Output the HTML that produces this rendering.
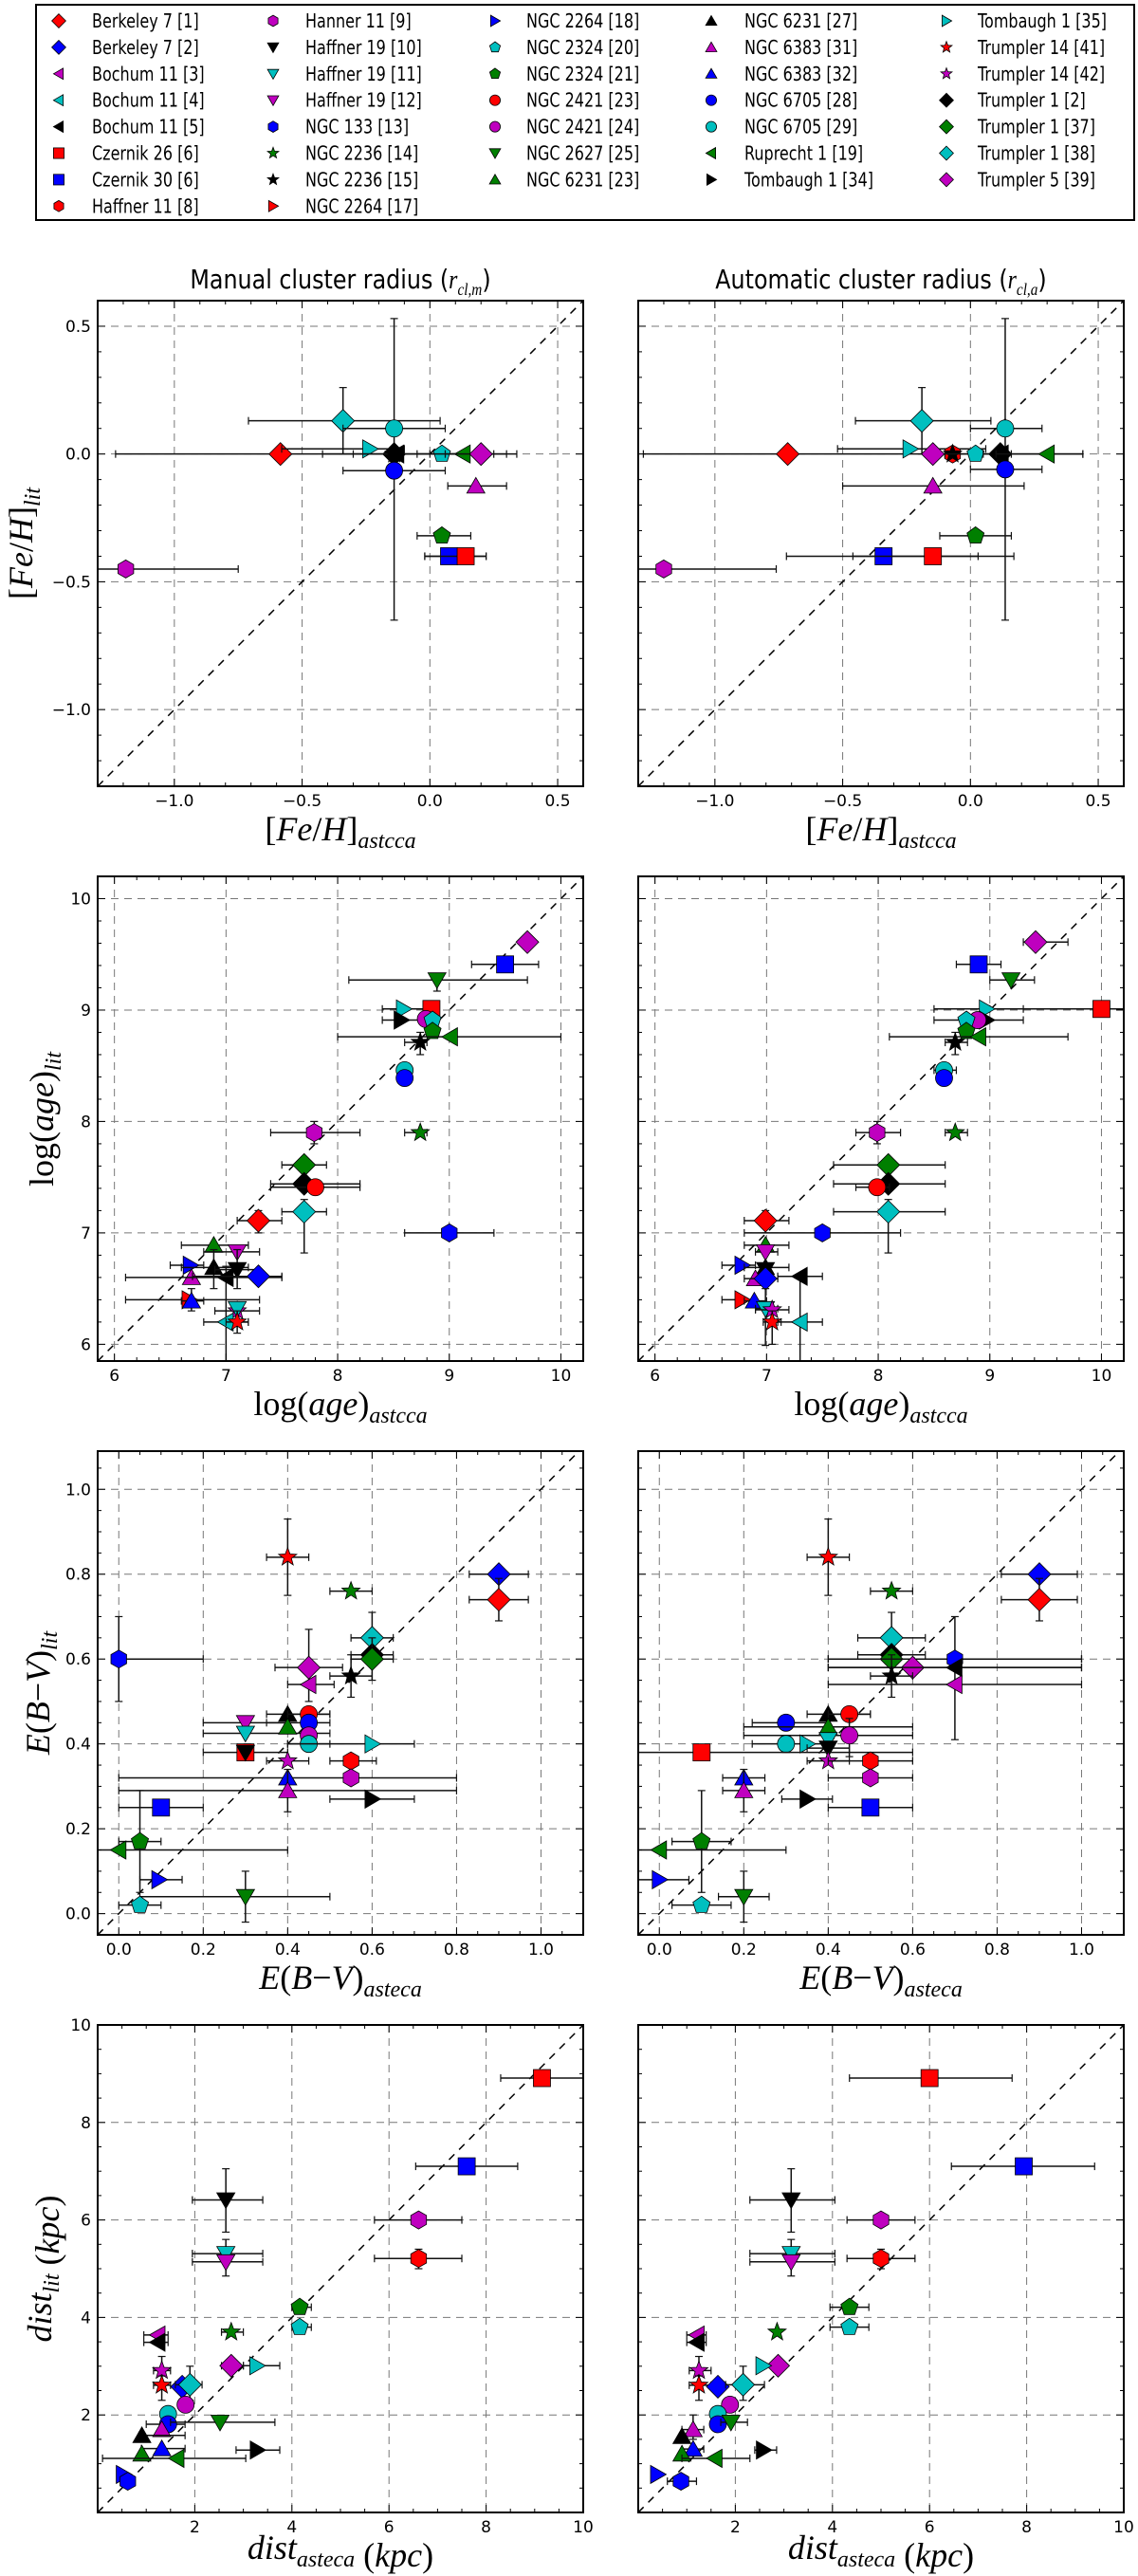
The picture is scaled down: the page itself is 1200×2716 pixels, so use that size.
<!DOCTYPE html>
<html><head><meta charset="utf-8"><style>
html,body{margin:0;padding:0;background:#fff;}
svg{display:block;}
</style></head><body>
<svg id="fig" xmlns="http://www.w3.org/2000/svg" width="1200" height="2716" viewBox="0 0 1200 2716"></svg>
<script>
// ---- series definitions ----
const seriesNames = ["Berkeley 7 [1]","Berkeley 7 [2]","Bochum 11 [3]","Bochum 11 [4]","Bochum 11 [5]","Czernik 26 [6]","Czernik 30 [6]","Haffner 11 [8]","Hanner 11 [9]","Haffner 19 [10]","Haffner 19 [11]","Haffner 19 [12]","NGC 133 [13]","NGC 2236 [14]","NGC 2236 [15]","NGC 2264 [17]","NGC 2264 [18]","NGC 2324 [20]","NGC 2324 [21]","NGC 2421 [23]","NGC 2421 [24]","NGC 2627 [25]","NGC 6231 [23]","NGC 6231 [27]","NGC 6383 [31]","NGC 6383 [32]","NGC 6705 [28]","NGC 6705 [29]","Ruprecht 1 [19]","Tombaugh 1 [34]","Tombaugh 1 [35]","Trumpler 14 [41]","Trumpler 14 [42]","Trumpler 1 [2]","Trumpler 1 [37]","Trumpler 1 [38]","Trumpler 5 [39]"];
const seriesMarkers = ["D","D","<","<","<","s","s","h","h","v","v","v","h","*","*",">",">","p","p","o","o","v","^","^","^","^","o","o","<",">",">","*","*","D","D","D","D"];
const seriesColors = ["r","b","m","c","k","r","b","r","m","k","c","m","b","g","k","r","b","c","g","r","m","g","g","k","m","b","b","c","g","k","c","r","m","k","g","c","m"];

// ---- data: [series, x, y, xlo, xhi, ylo, yhi] ----
const fehManual = [
[0,-0.585,0,-1.23,0.3],[35,-0.34,0.13,-0.71,0.04,0,0.26],[27,-0.14,0.10,-0.34,0.06,-0.65,0.53],
[30,-0.235,0.02,-0.58,-0.1],[33,-0.14,0,-0.42,0.14],[4,-0.13,0,-0.3,0.04],[14,-0.14,0],
[17,0.047,0,-0.05,0.15],[28,0.13,0,0.0,0.25],[36,0.2,0,0.06,0.34],[26,-0.14,-0.065,-0.34,0.06],
[24,0.18,-0.125,0.07,0.3],[18,0.047,-0.32,-0.05,0.16],[6,0.075,-0.4,-0.02,0.22],[5,0.14,-0.4,-0.02,0.22],
[8,-1.19,-0.45,-1.3,-0.75]];
const fehAuto = [
[0,-0.715,0,-1.28,0.44],[35,-0.19,0.13,-0.45,0.08,0,0.26],[27,0.136,0.10,0.0,0.28,-0.65,0.53],
[30,-0.236,0.02,-0.52,0.06],[36,-0.147,0],[7,-0.07,0],[14,-0.07,0],[17,0.02,0,-0.1,0.14],
[33,0.117,0,0.05,0.16],[4,0.12,0],[28,0.30,0,0.1,0.44],[26,0.136,-0.06,0.0,0.28],
[24,-0.147,-0.125,-0.5,0.21],[18,0.02,-0.32,-0.12,0.16],[6,-0.34,-0.4,-0.72,0.03],[5,-0.147,-0.4,-0.46,0.17],
[8,-1.2,-0.45,-1.3,-0.76]];
const ageManual = [
[36,9.70,9.61],[6,9.50,9.41,9.2,9.8],[21,8.89,9.27,8.1,9.7,9.17,9.3],[30,8.59,9.01,8.4,8.8],[5,8.84,9.01],
[29,8.57,8.91,8.4,8.8],[20,8.79,8.92],[17,8.85,8.91],[18,8.85,8.81],[28,9.01,8.76,8.0,10.0],
[14,8.74,8.71,8.6,8.8,8.6,8.8],[27,8.60,8.46],[26,8.60,8.39],[13,8.74,7.90,8.6,8.8],[8,7.79,7.90,7.4,8.2,7.8,8.0],
[34,7.70,7.61,7.5,7.9],[33,7.70,7.44,7.4,8.2],[19,7.80,7.41,7.4,8.2],[35,7.70,7.19,7.5,7.9,6.82,7.3],
[0,7.29,7.11,7.1,7.5,7.0,7.2],[12,9.00,7.00,8.6,9.4],[22,6.89,6.89,6.6,7.2],[11,7.10,6.83,6.8,7.3],
[16,6.68,6.71,6.5,6.8],[23,6.89,6.69,6.6,7.2,6.5,6.85],[9,7.10,6.67,6.9,7.3,6.5,6.85],[24,6.69,6.60],
[4,7.00,6.60,6.1,7.5,5.85,6.7],[1,7.29,6.61,6.7,7.5],[15,6.67,6.40,6.1,7.3],[25,6.69,6.39,6.6,6.8,6.3,6.5],
[32,7.10,6.30,6.9,7.3],[10,7.10,6.32],[3,7.00,6.20,6.8,7.2],[31,7.10,6.20,7.0,7.2,6.1,6.3]];
const ageAuto = [
[36,9.41,9.61,9.3,9.7],[6,8.90,9.41,8.7,9.1],[21,9.19,9.27,9.0,9.4],[5,10.0,9.01,9.0,10.2],
[30,8.97,9.01,8.5,9.3],[29,8.97,8.91,8.5,9.3],[20,8.89,8.91],[17,8.79,8.91],[18,8.79,8.81],
[28,8.90,8.76,8.1,9.7],[14,8.69,8.71,8.6,8.8,8.6,8.8],[27,8.59,8.46,8.5,8.7],[26,8.59,8.39],
[13,8.69,7.90,8.6,8.8],[8,7.99,7.90,7.8,8.2,7.8,8.0],[34,8.09,7.61,7.6,8.6],[33,8.09,7.44,7.6,8.6],
[19,7.99,7.41,7.8,8.1],[35,8.09,7.19,7.6,8.6,6.82,7.3],[0,6.99,7.11,6.8,7.2,7.0,7.2],[12,7.50,7.00,6.8,8.2],
[22,6.99,6.89,6.8,7.2],[11,6.99,6.83,6.9,7.1],[16,6.78,6.71,6.6,6.9],[23,6.99,6.69,6.8,7.2],[9,6.99,6.67],
[4,7.30,6.61,7.1,7.5,5.85,6.6],[24,6.90,6.59],[1,6.99,6.59,6.8,7.1],[15,6.78,6.40,6.6,6.9],
[25,6.89,6.39,6.8,7.0],[10,6.99,6.32,6.9,7.1,5.99,6.5],[32,7.05,6.31,6.9,7.2],[31,7.05,6.20,6.97,7.13,6.0,6.3],
[3,7.30,6.20,7.1,7.5]];
const ebvManual = [
[31,0.40,0.84,0.35,0.45,0.75,0.93],[13,0.55,0.76,0.5,0.6],[1,0.90,0.80,0.83,0.97],[0,0.90,0.74,0.83,0.97,0.69,0.79],
[35,0.60,0.65,0.55,0.65,0.6,0.71],[33,0.60,0.61,0.55,0.65],[34,0.60,0.60,0.55,0.65,0.55,0.65],[12,0.0,0.60,0.0,0.2,0.5,0.7],
[36,0.45,0.58,0.37,0.53,0.5,0.67],[14,0.55,0.56,0.5,0.6,0.51,0.61],[2,0.45,0.54,0.4,0.51],[23,0.40,0.47,0.35,0.5],
[19,0.45,0.47,0.4,0.5],[26,0.45,0.45,0.35,0.5],[11,0.30,0.45,0.2,0.4],[10,0.30,0.425,0.2,0.5],[22,0.40,0.44],
[20,0.45,0.42],[27,0.45,0.40,0.4,0.5],[30,0.60,0.40,0.4,0.7],[5,0.30,0.38,0.2,0.4],[9,0.30,0.38],
[32,0.40,0.36,0.35,0.45],[7,0.55,0.36,0.5,0.61],[8,0.55,0.32,0.0,0.8],[25,0.40,0.32],[24,0.40,0.29,0.0,0.8,0.24,0.34],
[29,0.60,0.27,0.5,0.7],[6,0.10,0.25,0.0,0.2],[18,0.05,0.17,0.0,0.1,0.05,0.29],[28,0.0,0.15,-0.05,0.4],
[16,0.095,0.08,0.05,0.15],[21,0.30,0.04,0.05,0.5,-0.02,0.1],[17,0.05,0.02,0.0,0.1]];
const ebvAuto = [
[31,0.40,0.84,0.35,0.45,0.75,0.93],[13,0.55,0.76,0.5,0.6],[1,0.90,0.80,0.81,0.99],[0,0.90,0.74,0.81,0.99,0.69,0.79],
[35,0.55,0.65,0.47,0.63,0.6,0.71],[33,0.55,0.61,0.47,0.63],[34,0.55,0.60,0.4,1.0],[12,0.70,0.60,0.4,1.0,0.41,0.7],
[36,0.60,0.58,0.4,1.0],[4,0.70,0.58,0.4,1.0],[14,0.55,0.56,0.5,0.6,0.51,0.61],[2,0.70,0.54,0.4,1.0],
[23,0.40,0.47,0.35,0.5],[19,0.45,0.47,0.4,0.5],[26,0.30,0.45,0.22,0.4],[22,0.40,0.44,0.2,0.6],
[20,0.45,0.42,0.2,0.6,0.37,0.46],[27,0.30,0.40,0.22,0.4,0.38,0.42],[30,0.35,0.40],[10,0.40,0.41],
[9,0.40,0.39,0.35,0.45],[5,0.10,0.38,-0.05,0.6],[32,0.40,0.36,0.35,0.45],[7,0.50,0.36,0.4,0.6],[8,0.50,0.32,0.4,0.6],
[25,0.20,0.32,0.15,0.25],[24,0.20,0.29,0.15,0.25,0.24,0.34],[29,0.35,0.27,0.29,0.41],[6,0.50,0.25,0.4,0.6],
[18,0.10,0.17,0.03,0.17,0.05,0.29],[28,0.0,0.15,-0.05,0.3],[16,0.0,0.08,-0.05,0.07],[21,0.20,0.04,0.14,0.26,-0.02,0.1],
[17,0.10,0.02,0.03,0.17]];
const distManual = [
[5,9.15,8.91,8.3,10],[6,7.60,7.10,6.55,8.65],[9,2.64,6.41,1.95,3.4,5.75,7.05],[8,6.61,6.00,5.7,7.5],
[10,2.64,5.31,1.95,3.4,4.85,5.6],[11,2.64,5.14,1.95,3.4],[7,6.61,5.21,5.7,7.5,5.0,5.4],[18,4.16,4.21,4.0,4.4],
[17,4.16,3.80,4.0,4.4],[13,2.75,3.70,2.55,3.0],[2,1.24,3.64,0.95,1.45],[4,1.24,3.49,0.95,1.45],[36,2.75,3.01,2.55,3.0],
[30,3.28,3.01,3.0,3.75],[32,1.32,2.91,1.15,1.5,2.6,3.2],[31,1.32,2.61,1.15,1.5,2.3,2.8],[1,1.74,2.58],
[35,1.90,2.62,1.6,2.15,2.3,3.0],[20,1.81,2.21],[27,1.45,2.02],[26,1.45,1.81,1.0,1.8],[21,2.52,1.85,1.5,3.65],
[24,1.32,1.70],[23,0.91,1.58,0.85,1.8],[25,1.32,1.31,0.9,1.8],[29,3.29,1.28,2.85,3.75],[22,0.91,1.20],
[28,1.63,1.11,0.1,3.05],[16,0.53,0.78],[12,0.62,0.64]];
const distAuto = [
[5,6.00,8.91,4.35,7.7],[6,7.94,7.10,6.45,9.4],[9,3.15,6.41,2.3,4.05,5.75,7.05],[8,5.00,6.00,4.3,5.7],
[10,3.15,5.31,2.3,4.05,4.85,5.6],[11,3.15,5.14,2.3,4.05],[7,5.00,5.21,4.3,5.7,5.0,5.4],[18,4.35,4.21,3.95,4.75],
[17,4.35,3.80,3.95,4.75],[13,2.86,3.70],[2,1.21,3.64,1.0,1.4],[4,1.21,3.49,1.0,1.4],[36,2.88,3.01],[30,2.57,3.01],
[32,1.25,2.91,1.05,1.5,2.6,3.2],[31,1.25,2.61,1.05,1.5,2.3,2.8],[1,1.64,2.58],[35,2.16,2.62,1.8,2.6,2.3,3.0],
[20,1.89,2.21],[27,1.64,2.02],[26,1.64,1.81],[21,1.91,1.85,1.7,2.25],[24,1.13,1.70,0.9,1.35,1.5,2.0],
[23,0.90,1.56],[25,1.13,1.30,0.9,1.35],[29,2.58,1.28,2.4,2.85],[22,0.90,1.20],[28,1.58,1.11,0.9,2.3],
[16,0.40,0.78],[12,0.88,0.64,0.6,1.2]];

// ---- tick label arrays ----
const fehTicks = [-1.0,-0.5,0.0,0.5];
const ageTicks = [6,7,8,9,10];
const ebvTicks = [0.0,0.2,0.4,0.6,0.8,1.0];
const distTicks = [2,4,6,8,10];

const NS="http://www.w3.org/2000/svg";
const svg=document.getElementById('fig');
const COL={r:"#ff0000",b:"#0000ff",m:"#bf00bf",c:"#00bfbf",k:"#000000",g:"#007f00"};
function el(tag,attrs,parent){const e=document.createElementNS(NS,tag);for(const k in attrs)e.setAttribute(k,attrs[k]);(parent||svg).appendChild(e);return e;}
function fmt(v,d){const s=v.toFixed(d);return s.replace('-','\u2212');}

function poly(n,r,rot,cx,cy){let p=[];for(let i=0;i<n;i++){const a=rot+i*2*Math.PI/n;p.push((cx+r*Math.cos(a)).toFixed(1)+','+(cy+r*Math.sin(a)).toFixed(1));}return p.join(' ');}
function starPts(r,cx,cy){let p=[];for(let i=0;i<10;i++){const a=-Math.PI/2+i*Math.PI/5;const rr=i%2?r*0.42:r;p.push((cx+rr*Math.cos(a)).toFixed(1)+','+(cy+rr*Math.sin(a)).toFixed(1));}return p.join(' ');}
function marker(type,color,cx,cy,sc,parent){
  const a={fill:COL[color],stroke:"#000","stroke-width":0.8};
  let e;
  if(type==='o'){e=el('circle',Object.assign({cx:cx,cy:cy,r:9*sc},a),parent);}
  else if(type==='D'){e=el('polygon',Object.assign({points:poly(4,12*sc,-Math.PI/2,cx,cy)},a),parent);}
  else if(type==='s'){e=el('rect',Object.assign({x:cx-9*sc,y:cy-9*sc,width:18*sc,height:18*sc},a),parent);}
  else if(type==='h'){e=el('polygon',Object.assign({points:poly(6,9.5*sc,-Math.PI/2,cx,cy)},a),parent);}
  else if(type==='p'){e=el('polygon',Object.assign({points:poly(5,9.5*sc,-Math.PI/2,cx,cy)},a),parent);}
  else if(type==='*'){e=el('polygon',Object.assign({points:starPts(10*sc,cx,cy)},a),parent);}
  else if(type==='^'){e=el('polygon',Object.assign({points:poly(3,11*sc,-Math.PI/2,cx,cy+2*sc)},a),parent);}
  else if(type==='v'){e=el('polygon',Object.assign({points:poly(3,11*sc,Math.PI/2,cx,cy-2*sc)},a),parent);}
  else if(type==='<'){e=el('polygon',Object.assign({points:poly(3,11*sc,Math.PI,cx+2*sc,cy)},a),parent);}
  else if(type==='>'){e=el('polygon',Object.assign({points:poly(3,11*sc,0,cx-2*sc,cy)},a),parent);}
  return e;
}

// ---- legend ----
const legend=el('g',{});


el('rect',{x:38,y:5,width:1158,height:227,fill:"#fff",stroke:"#000","stroke-width":2},legend);
const legMX=[62,288,522,750,998], legTX=[97,322,555,785,1031];
const legColStart=[0,8,16,23,30,37];
seriesNames.forEach((nm,i)=>{
  let col=0; while(i>=legColStart[col+1]) col++;
  const row=i-legColStart[col];
  const y=22+row*27.9;
  const g=el('g',{},legend);
  
  
  marker(seriesMarkers[i],seriesColors[i],legMX[col],y,0.62,g);
  const t=el('text',{x:0,y:0,"font-family":"DejaVu Sans, Liberation Sans, sans-serif","font-size":20,transform:`translate(${legTX[col]},${y+7}) scale(0.8,1)`},g);
  t.textContent=nm;
});

// ---- panels ----
const colX=[103,673], W=512;
const rows=[
 {top:317,h:512,xmin:-1.3,xmax:0.6,ymin:-1.3,ymax:0.6,xt:fehTicks,yt:[-1.0,-0.5,0.0,0.5],dec:1,minor:0.1,data:[fehManual,fehAuto],key:'feh'},
 {top:924,h:511,xmin:5.85,xmax:10.2,ymin:5.85,ymax:10.2,xt:ageTicks,yt:ageTicks,dec:0,minor:0.2,data:[ageManual,ageAuto],key:'age'},
 {top:1530,h:510,xmin:-0.05,xmax:1.1,ymin:-0.05,ymax:1.09,xt:ebvTicks,yt:ebvTicks,dec:1,minor:0.05,data:[ebvManual,ebvAuto],key:'ebv'},
 {top:2135,h:514,xmin:0,xmax:10,ymin:0,ymax:10,xt:distTicks,yt:distTicks,dec:0,minor:0.5,data:[distManual,distAuto],key:'dist'}
];
const defs=el('defs',{});
rows.forEach((R,ri)=>{
  [0,1].forEach(ci=>{
    const x0=colX[ci], y0=R.top, h=R.h;
    const sx=v=>x0+(v-R.xmin)/(R.xmax-R.xmin)*W;
    const sy=v=>y0+h-(v-R.ymin)/(R.ymax-R.ymin)*h;
    const g=el('g',{});
    
    
    const cid='clip'+ri+ci;
    const cp=el('clipPath',{id:cid},defs); el('rect',{x:x0,y:y0,width:W,height:h},cp);
    R.xt.forEach(v=>{const X=sx(v); if(X>x0+1&&X<x0+W-1){const l=el('line',{x1:X,x2:X,y1:y0,y2:y0+h,stroke:"#777","stroke-width":1,"stroke-dasharray":"8,6"},g);}});
    R.yt.forEach(v=>{const Y=sy(v); if(Y>y0+1&&Y<y0+h-1){const l=el('line',{y1:Y,y2:Y,x1:x0,x2:x0+W,stroke:"#777","stroke-width":1,"stroke-dasharray":"8,6"},g);}});
    const lo=Math.max(R.xmin,R.ymin), hi=Math.min(R.xmax,R.ymax);
    const d=el('line',{x1:sx(lo),y1:sy(lo),x2:sx(hi),y2:sy(hi),stroke:"#000","stroke-width":1.5,"stroke-dasharray":"8,7","clip-path":`url(#${cid})`},g);
    
    
    const pg=el('g',{"clip-path":`url(#${cid})`},g);
    R.data[ci].forEach(p=>{
      const [s,x,y,xl,xh,yl,yh]=p;
      const X=sx(x),Y=sy(y);
      if(xl!==undefined&&xl!==null){
        el('line',{x1:sx(xl),x2:sx(xh),y1:Y,y2:Y,stroke:"#111","stroke-width":1.5},pg);
        [xl,xh].forEach(v=>el('line',{x1:sx(v),x2:sx(v),y1:Y-4,y2:Y+4,stroke:"#111","stroke-width":1.2},pg));
      }
      if(yl!==undefined&&yl!==null){
        el('line',{x1:X,x2:X,y1:sy(yl),y2:sy(yh),stroke:"#111","stroke-width":1.5},pg);
        [yl,yh].forEach(v=>el('line',{x1:X-4,x2:X+4,y1:sy(v),y2:sy(v),stroke:"#111","stroke-width":1.2},pg));
      }
      const m=marker(seriesMarkers[s],seriesColors[s],X,Y,1,pg);
      
      
    });
    const tk=el('g',{stroke:"#000","stroke-width":1},g);
    for(let v=Math.ceil(R.xmin/R.minor)*R.minor; v<=R.xmax+1e-9; v+=R.minor){
      const X=sx(v); const major=R.xt.some(t=>Math.abs(t-v)<1e-6); const L=major?8:4;
      el('line',{x1:X,x2:X,y1:y0+h,y2:y0+h-L},tk); el('line',{x1:X,x2:X,y1:y0,y2:y0+L},tk);
    }
    for(let v=Math.ceil(R.ymin/R.minor)*R.minor; v<=R.ymax+1e-9; v+=R.minor){
      const Y=sy(v); const major=R.yt.some(t=>Math.abs(t-v)<1e-6); const L=major?8:4;
      el('line',{y1:Y,y2:Y,x1:x0,x2:x0+L},tk); el('line',{y1:Y,y2:Y,x1:x0+W,x2:x0+W-L},tk);
    }
    const fr=el('rect',{x:x0,y:y0,width:W,height:h,fill:"none",stroke:"#000","stroke-width":2},g);
    
    
    R.xt.forEach(v=>{const t=el('text',{x:sx(v),y:y0+h+21,"text-anchor":"middle","font-family":"DejaVu Sans, Liberation Sans, sans-serif","font-size":17},g);t.textContent=fmt(v,R.dec);});
    if(ci===0){R.yt.forEach(v=>{const t=el('text',{x:x0-7,y:sy(v)+6,"text-anchor":"end","font-family":"DejaVu Sans, Liberation Sans, sans-serif","font-size":17},g);t.textContent=fmt(v,R.dec);});}
  });
});

// ---- titles and axis labels ----
function addText(html,x,y,size,name,rot,fam){
  const t=el('text',{x:x,y:y,"text-anchor":"middle","font-family":fam||"Liberation Serif, serif","font-size":size});
  if(rot)t.setAttribute('transform',`rotate(-90 ${x} ${y})`);
  t.innerHTML=html;
  
  
  return t;
}
const sub=s=>`<tspan font-style="italic" font-size="24" dy="8">${s}</tspan><tspan dy="-8"></tspan>`;
addText(`Manual cluster radius (<tspan font-family="Liberation Serif, serif" font-style="italic">r</tspan><tspan font-family="Liberation Serif, serif" font-style="italic" font-size="18" dy="7">cl,m</tspan><tspan dy="-7">)</tspan>`,359,304,28,'title-manual',false,"DejaVu Sans, Liberation Sans, sans-serif").setAttribute('transform','translate(359,304) scale(0.85,1) translate(-359,-304)');
addText(`Automatic cluster radius (<tspan font-family="Liberation Serif, serif" font-style="italic">r</tspan><tspan font-family="Liberation Serif, serif" font-style="italic" font-size="18" dy="7">cl,a</tspan><tspan dy="-7">)</tspan>`,929,304,28,'title-automatic',false,"DejaVu Sans, Liberation Sans, sans-serif").setAttribute('transform','translate(929,304) scale(0.85,1) translate(-929,-304)');
const xl=[
 [`[<tspan font-style="italic">Fe</tspan>/<tspan font-style="italic">H</tspan>]${sub('astcca')}`,886],
 [`log(<tspan font-style="italic">age</tspan>)${sub('astcca')}`,1492],
 [`<tspan font-style="italic">E</tspan>(<tspan font-style="italic">B</tspan>−<tspan font-style="italic">V</tspan>)${sub('asteca')}`,2097],
 [`<tspan font-style="italic">dist</tspan>${sub('asteca')} (<tspan font-style="italic">kpc</tspan>)`,2698]];
xl.forEach(([h,y])=>{[359,929].forEach(x=>addText(h,x,y,36,'x-axis-title'));});
const yl=[
 [`[<tspan font-style="italic">Fe</tspan>/<tspan font-style="italic">H</tspan>]${sub('lit')}`,34,573],
 [`log(<tspan font-style="italic">age</tspan>)${sub('lit')}`,56,1180],
 [`<tspan font-style="italic">E</tspan>(<tspan font-style="italic">B</tspan>−<tspan font-style="italic">V</tspan>)${sub('lit')}`,52,1785],
 [`<tspan font-style="italic">dist</tspan>${sub('lit')} (<tspan font-style="italic">kpc</tspan>)`,54,2392]];
yl.forEach(([h,x,y])=>addText(h,x,y,36,'y-axis-title',true));
</script>
</body></html>
